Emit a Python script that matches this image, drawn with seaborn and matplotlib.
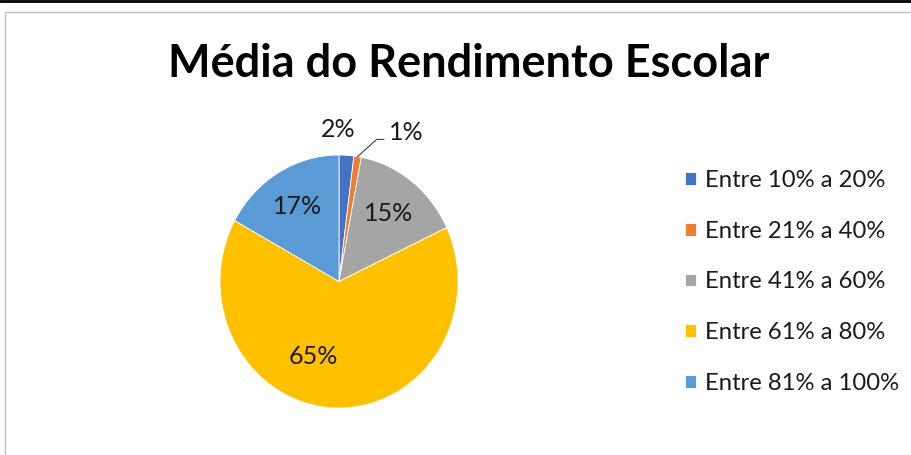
import numpy as np
import matplotlib.pyplot as plt
import seaborn as sns
from matplotlib.lines import Line2D
from matplotlib.patches import Rectangle

# data
categories = ["Entre 10% a 20%", "Entre 21% a 40%", "Entre 41% a 60%",
              "Entre 61% a 80%", "Entre 81% a 100%"]
values = [2, 1, 15, 65, 17]
colors = ["#4472C4", "#ED7D31", "#A5A5A5", "#FFC000", "#5B9BD5"]

sns.set_style("white")
plt.rcParams['font.family'] = ['Lato', 'DejaVu Sans']
txt_color = "#1a1a1a"

W, H = 912, 455
fig = plt.figure(figsize=(W / 100, H / 100), dpi=100)

# pie axes (slightly taller than wide, as in the original)
ax = fig.add_axes([220 / W, 47 / H, 238 / W, 253 / H])
wedges, texts, autotexts = ax.pie(
    values, colors=colors, startangle=90, counterclock=False,
    autopct='%1.0f%%', pctdistance=0.68,
    wedgeprops=dict(edgecolor='white', linewidth=0.6),
    textprops=dict(fontsize=18, color=txt_color))
ax.set_aspect('auto')
ax.set_xlim(-1, 1)
ax.set_ylim(-1, 1)

# label placement (radius, angle shift in degrees)
layout = [(1.2, 4), None, (0.68, 0), (0.63, -18), (0.69, 0)]
for w, t, lay in zip(wedges, autotexts, layout):
    if lay is None:
        continue
    mid = np.deg2rad((w.theta1 + w.theta2) / 2 + lay[1])
    t.set_position((lay[0] * np.cos(mid), lay[0] * np.sin(mid)))

# small slice with leader line
w = wedges[1]
mid = np.deg2rad((w.theta1 + w.theta2) / 2)
autotexts[1].set_visible(False)
ax.annotate(autotexts[1].get_text(), xy=(np.cos(mid), np.sin(mid)),
            xytext=(31, 24), textcoords='offset pixels',
            ha='left', va='center', fontsize=18, color=txt_color,
            arrowprops=dict(arrowstyle='-', color='#404040', lw=0.8,
                            shrinkA=1, shrinkB=0, relpos=(0, 0.2),
                            connectionstyle='angle,angleA=0,angleB=42'))

# title
fig.text(469 / W, 1 - 77 / H, "Média do Rendimento Escolar",
         ha='center', va='baseline', fontsize=32.5, fontweight='bold',
         color='black')

# legend
fig.legend(wedges, categories, loc='center left',
           bbox_to_anchor=(685 / W, 1 - 282 / H), frameon=False,
           fontsize=17.2, handlelength=0.45, handleheight=0.45,
           handletextpad=0.4, labelspacing=1.25, borderpad=0,
           borderaxespad=0, labelcolor=txt_color)

# chart frame and top rule
fig.add_artist(Rectangle((5 / W, -0.5), 2, 1 - 12 / H + 0.5,
                         transform=fig.transFigure, fill=False,
                         edgecolor='#bfbfbf', lw=1))
fig.add_artist(Line2D([0, 1], [1 - 1 / H, 1 - 1 / H],
                      transform=fig.transFigure, color='black', lw=2))

fig.savefig('out.png', dpi=100)
